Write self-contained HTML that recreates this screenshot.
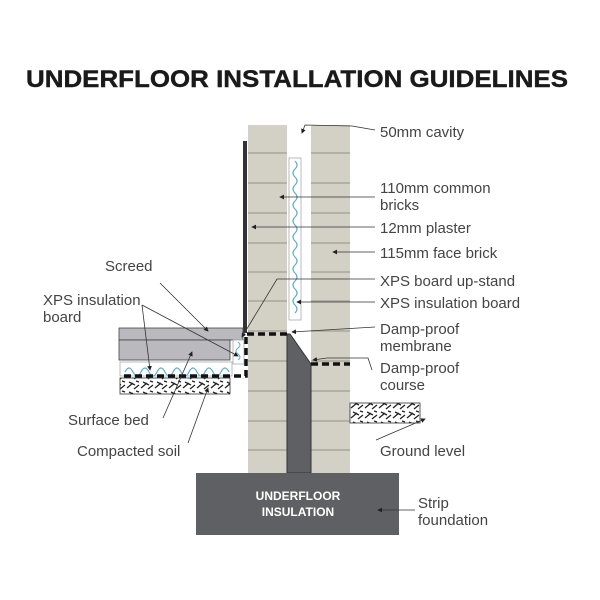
<!DOCTYPE html>
<html><head><meta charset="utf-8"><style>body{margin:0;background:#fff}svg{display:block}text{font-family:"Liberation Sans",sans-serif;fill:#444}</style></head><body>
<svg width="600" height="600" viewBox="0 0 600 600" xmlns="http://www.w3.org/2000/svg">
<defs>
<marker id="a" markerWidth="6" markerHeight="6" refX="5" refY="3" orient="auto"><path d="M0,0 L6,3 L0,6z" fill="#222"/></marker>
<pattern id="soil" width="14" height="10" patternUnits="userSpaceOnUse"><path d="M1,8 L7,3 M8,9 L13,5 M3,2 L9,5 M10,1 L13,2" stroke="#222" stroke-width="1.3" fill="none"/></pattern>
</defs>
<text x="26" y="87" font-size="24.5" font-weight="bold" style="fill:#1a1a1a;stroke:#1a1a1a;stroke-width:0.4" textLength="542" lengthAdjust="spacingAndGlyphs">UNDERFLOOR INSTALLATION GUIDELINES</text>
<!-- walls -->
<rect x="248" y="125" width="39" height="348" fill="#d3d0c6"/>
<rect x="311" y="125" width="39" height="348" fill="#d3d0c6"/>
<g stroke="#a9a69c" stroke-width="1.5">
<path d="M248,153H287M248,183H287M248,213H287M248,243H287M248,272H287M248,301H287M248,331H287M248,361H287M248,391H287M248,421H287M248,450H287"/>
<path d="M311,153H350M311,183H350M311,213H350M311,243H350M311,272H350M311,301H350M311,331H350M311,361H350M311,391H350M311,421H350M311,450H350"/>
</g>
<!-- cavity fill -->
<path d="M287,334 L290,334 L311,364 L311,473 L287,473z" fill="#5f6063" stroke="#333"/>
<!-- plaster -->
<rect x="243" y="141" width="4" height="192" fill="#333"/>
<!-- insulation board -->
<rect x="289" y="158" width="12" height="162" fill="#fff" stroke="#aaa" stroke-width="0.8"/>
<path d="M295,161 q4,4 0,8 q-4,4 0,8 q4,4 0,8 q-4,4 0,8 q4,4 0,8 q-4,4 0,8 q4,4 0,8 q-4,4 0,8 q4,4 0,8 q-4,4 0,8 q4,4 0,8 q-4,4 0,8 q4,4 0,8 q-4,4 0,8 q4,4 0,8 q-4,4 0,8 q4,4 0,8 q-4,4 0,8 q4,4 0,8" stroke="#5ab0d8" stroke-width="1.2" fill="none"/>
<!-- foundation -->
<rect x="196" y="473" width="203" height="62" fill="#5f6063"/>
<text x="298" y="500" font-size="12" font-weight="bold" text-anchor="middle" style="fill:#fff">UNDERFLOOR</text>
<text x="298" y="516" font-size="12" font-weight="bold" text-anchor="middle" style="fill:#fff">INSULATION</text>
<!-- floor -->
<rect x="119" y="328" width="124" height="12" fill="#b9b9be" stroke="#444" stroke-width="0.8"/>
<rect x="119" y="340" width="111" height="20" fill="#b9b9be" stroke="#444" stroke-width="0.8"/>
<rect x="120" y="362" width="112" height="14" fill="#fff" stroke="#aaa" stroke-width="0.8"/>
<path d="M125,372 q4,-8 8,0 q4,8 8,0 q4,-8 8,0 q4,8 8,0 q4,-8 8,0 q4,8 8,0 q4,-8 8,0 q4,8 8,0 q4,-8 8,0 q4,8 8,0 q4,-8 8,0 q4,8 8,0 q4,-8 8,0" stroke="#5ab0d8" stroke-width="1.2" fill="none"/>
<rect x="233" y="340" width="11" height="24" fill="#fff" stroke="#aaa" stroke-width="0.8"/>
<path d="M238,342 q4,3 0,6 q-4,3 0,6 q4,3 0,6" stroke="#5ab0d8" fill="none"/>
<rect x="120" y="378" width="110" height="16" fill="url(#soil)" stroke="#333" stroke-width="0.8"/>
<rect x="350" y="403" width="70" height="20" fill="url(#soil)" stroke="#333" stroke-width="0.8"/>
<!-- DPM / DPC dashed -->
<g stroke="#111" stroke-width="3.5" fill="none" stroke-dasharray="7,4">
<path d="M124,376 H246 V334 H288"/>
<path d="M311,364 H350"/>
</g>
<!-- leaders -->
<g stroke="#333" stroke-width="0.8" fill="none">
<path d="M375,130 L352,126 L305,125 L302,133" marker-end="url(#a)"/>
<path d="M375,197 H280" marker-end="url(#a)"/>
<path d="M375,227 H252" marker-end="url(#a)"/>
<path d="M375,252 H333" marker-end="url(#a)"/>
<path d="M375,279 H277 L242,337" marker-end="url(#a)"/>
<path d="M375,302 H297" marker-end="url(#a)"/>
<path d="M375,327 L292,332" marker-end="url(#a)"/>
<path d="M372,370 L368,358 H327 L313,360" marker-end="url(#a)"/>
<path d="M160,283 L208,331" marker-end="url(#a)"/>
<path d="M142,305 L238,356" marker-end="url(#a)"/>
<path d="M142,305 L150,370" marker-end="url(#a)"/>
<path d="M163,418 L192,352" marker-end="url(#a)"/>
<path d="M188,443 L208,388" marker-end="url(#a)"/>
<path d="M376,440 L425,419" marker-end="url(#a)"/>
<path d="M415,510 H378" marker-end="url(#a)"/>
</g>
<!-- labels -->
<g font-size="15">
<text x="380" y="137">50mm cavity</text>
<text x="380" y="193">110mm common</text>
<text x="380" y="210">bricks</text>
<text x="380" y="233">12mm plaster</text>
<text x="380" y="258">115mm face brick</text>
<text x="380" y="286">XPS board up-stand</text>
<text x="380" y="308">XPS insulation board</text>
<text x="380" y="334">Damp-proof</text>
<text x="380" y="351">membrane</text>
<text x="380" y="373">Damp-proof</text>
<text x="380" y="390">course</text>
<text x="380" y="456">Ground level</text>
<text x="418" y="508">Strip</text>
<text x="418" y="525">foundation</text>
<text x="105" y="271">Screed</text>
<text x="43" y="305">XPS insulation</text>
<text x="43" y="322">board</text>
<text x="68" y="425">Surface bed</text>
<text x="77" y="456">Compacted soil</text>
</g>
</svg>
</body></html>
